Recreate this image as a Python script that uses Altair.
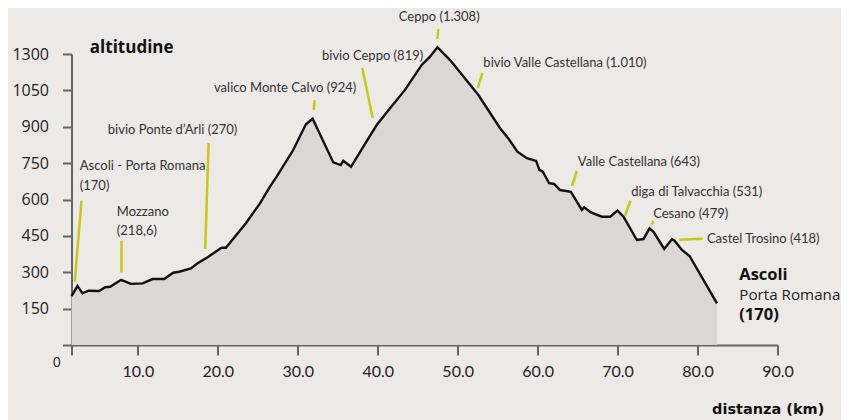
import altair as alt
import pandas as pd

# ---- profile (distance km, altitude m as read on the chart's axis) ----
km = [1.7, 2.45, 3.08, 3.83, 5.15, 5.91, 6.53, 7.87, 8.16, 9.12, 10.59, 11.84, 13.29, 14.42,
      15.17, 16.63, 17.47, 18.72, 20.47, 21.01, 23.51, 25.27, 26.52, 27.36, 29.43, 31.02,
      31.86, 34.44, 35.37, 35.69, 36.66, 38.2, 39.87, 41.54, 43.41, 45.5, 46.54, 47.46,
      49.05, 52.59, 55.3, 56.34, 57.47, 58.65, 59.81, 60.22, 60.65, 61.44, 62.06, 62.81,
      64.15, 65.53, 65.82, 66.66, 68.03, 69.07, 69.99, 70.74, 72.41, 73.24, 73.99, 74.49,
      75.83, 76.79, 77.12, 78.05, 79.0, 82.43]
elev = [202, 243, 213, 224, 223, 238, 240, 268, 265, 252, 254, 272, 272, 298, 302, 316, 337,
        362, 401, 401, 502, 584, 653, 694, 804, 910, 933, 753, 742, 760, 735, 818, 907, 976,
        1052, 1155, 1189, 1228, 1175, 1031, 894, 852, 797, 770, 759, 722, 715, 667, 664, 639,
        632, 557, 568, 547, 529, 529, 554, 529, 433, 437, 481, 467, 396, 436, 430, 392, 367, 172]

# ---- axes ----
x_ticks = [1.7, 10, 20, 30, 40, 50, 60, 70, 80, 90]
y_ticks = [0, 150, 300, 450, 600, 750, 900, 1050, 1200]

# ---- place-name annotations ----
names = ["Ascoli - Porta Romana", "(170)", "Mozzano", "(218,6)", "bivio Ponte d\u2019Arli (270)",
         "valico Monte Calvo (924)", "bivio Ceppo (819)", "Ceppo (1.308)",
         "bivio Valle Castellana (1.010)", "Valle Castellana (643)", "diga di Talvacchia (531)",
         "Cesano (479)", "Castel Trosino (418)"]
name_km = [2.74, 2.74, 7.37, 7.37, 6.24, 19.53, 33.03, 42.63, 53.21, 65.03, 71.70, 74.45, 81.17]
name_elev = [738, 656, 548, 470, 887, 1060, 1192, 1353, 1163, 756, 632, 540, 436]

lead_km1 = [2.95, 7.96, 18.85, 32.11, 38.07, 47.58, 53.09, 64.90, 71.61, 74.49, 77.70]
lead_el1 = [595, 430, 833, 1010, 1142, 1303, 1122, 718, 595, 511, 434]
lead_km2 = [2.11, 7.96, 18.42, 31.99, 39.37, 47.46, 52.51, 64.31, 70.91, 74.20, 80.62]
lead_el2 = [261, 298, 396, 969, 936, 1262, 1060, 656, 532, 495, 438]

end_bold = ["Ascoli", "(170)"]
end_bold_elev = [289, 124]
end_reg = ["Porta Romana"]
end_reg_elev = [206]
end_km = 85.22

BG = "#ECE9E7"
FILL = "#DAD7D6"
AXIS = "#666666"
LEAD = "#C6CA14"
COND = "Lato, sans-serif"
SANS = "Open Sans, Noto Sans, sans-serif"

prof = pd.DataFrame({"km": km, "elev": elev})
xs = alt.Scale(domain=[1.7, 90], nice=False, zero=False)
ys = alt.Scale(domain=[0, 1200], nice=False)

x_axis = alt.Axis(values=x_ticks, labelExpr="datum.value < 5 ? '' : format(datum.value, '.1f')",
                  domainColor=AXIS, domainWidth=2, tickColor=AXIS, tickWidth=2, tickSize=10,
                  labelFont="Lato, sans-serif", labelFontSize=16, labelColor="#222",
                  labelPadding=8, title=None, grid=False, labelOverlap=False, labelFlush=False)
y_axis = alt.Axis(values=y_ticks, format="d",
                  labelExpr="datum.value == 1200 ? '1300' : (datum.value == 0 ? '' : datum.label)",
                  domainColor=AXIS, domainWidth=2, tickColor=AXIS, tickWidth=2, tickSize=9,
                  labelFont=SANS, labelFontSize=16, labelColor="#222", labelPadding=14,
                  title=None, grid=False, labelOverlap=False, labelFlush=False)


def X(field):
    return alt.X(field, type="quantitative", scale=xs, axis=x_axis)


def Y(field):
    return alt.Y(field, type="quantitative", scale=ys, axis=y_axis)


area = alt.Chart(prof).mark_area(color=FILL).encode(x=X("km"), y=Y("elev"))
line = alt.Chart(prof).mark_line(color="#111111", strokeWidth=2.4).encode(x=X("km"), y=Y("elev"))

lead_df = pd.DataFrame({"k1": lead_km1, "e1": lead_el1, "k2": lead_km2, "e2": lead_el2})
leaders = alt.Chart(lead_df).mark_rule(color=LEAD, strokeWidth=2.5).encode(
    x=X("k1"), y=Y("e1"), x2="k2:Q", y2="e2:Q")

name_df = pd.DataFrame({"t": names, "k": name_km, "e": name_elev})
name_txt = alt.Chart(name_df).mark_text(align="left", baseline="middle", font=COND,
                                        fontSize=13, color="#333333").encode(
    x=X("k"), y=Y("e"), text="t:N")

endb_df = pd.DataFrame({"t": end_bold, "k": [end_km] * len(end_bold), "e": end_bold_elev})
endb = alt.Chart(endb_df).mark_text(align="left", baseline="middle", font=SANS, fontSize=16.5,
                                    fontWeight="bold", color="#111111").encode(
    x=X("k"), y=Y("e"), text="t:N")
endr_df = pd.DataFrame({"t": end_reg, "k": [end_km] * len(end_reg), "e": end_reg_elev})
endr = alt.Chart(endr_df).mark_text(align="left", baseline="middle", font=SANS, fontSize=15.2,
                                    color="#222222").encode(
    x=X("k"), y=Y("e"), text="t:N")

titles_df = pd.DataFrame({"t": ["altitudine"], "k": [3.99], "e": [1225]})
ytitle = alt.Chart(titles_df).mark_text(align="left", baseline="middle", font=SANS, fontSize=17,
                                        fontWeight="bold", color="#111111").encode(
    x=X("k"), y=Y("e"), text="t:N")
xt_df = pd.DataFrame({"t": ["distanza (km)"], "k": [95.86], "e": [-268]})
xtitle = alt.Chart(xt_df).mark_text(align="right", baseline="middle",
                                    font="DejaVu Sans, sans-serif",
                                    fontSize=14.5, fontWeight="bold", color="#111111").encode(
    x=X("k"), y=Y("e"), text="t:N")
zero_df = pd.DataFrame({"t": ["0"], "k": [-0.14], "e": [-74]})
zero = alt.Chart(zero_df).mark_text(align="center", baseline="middle", font=SANS, fontSize=14,
                                    color="#222222").encode(
    x=X("k"), y=Y("e"), text="t:N")

chart = alt.layer(area, line, leaders, name_txt, endb, endr, ytitle, xtitle, zero).properties(
    width=706, height=291, background=BG,
    padding={"left": 63.5, "top": 46, "right": 63.5, "bottom": 75},
    autosize=alt.AutoSizeParams(type="none"),
).configure_view(stroke=None)

chart.save("out.html", embed_options={"renderer": "svg", "actions": False})
